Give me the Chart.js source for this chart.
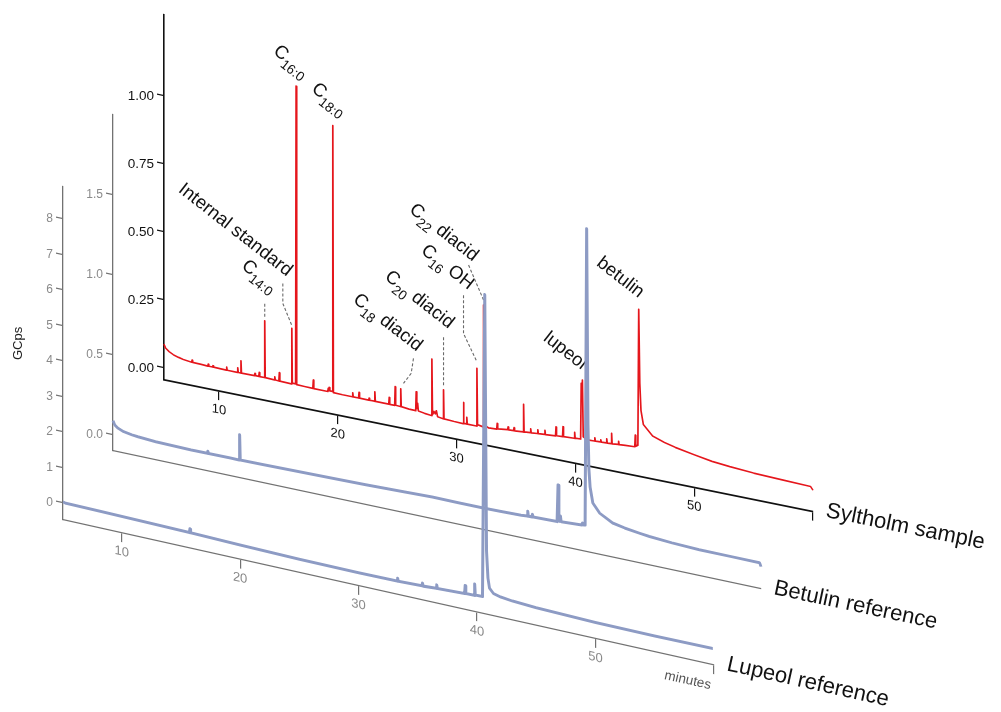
<!DOCTYPE html>
<html>
<head>
<meta charset="utf-8">
<title>GC traces</title>
<script src="https://cdn.jsdelivr.net/npm/chart.js@4.4.1/dist/chart.umd.min.js"></script>
<style>
  html, body { margin: 0; background: #fff; }
  #stack { position: relative; width: 1001px; height: 712px; overflow: hidden; }
  #stack canvas { position: absolute; left: 0; top: 0; }
</style>
</head>
<body>
<div id="stack">
  <canvas id="sylChart" width="1001" height="712"></canvas>
  <canvas id="betChart" width="1001" height="712"></canvas>
  <canvas id="lupChart" width="1001" height="712"></canvas>
</div>
<script>
// ============================================================
//  Stacked GC traces: Syltholm sample vs. betulin / lupeol refs
// ============================================================

// ===== DATA =====
const timeTicks = [10, 20, 30, 40, 50, 60];           // minutes
const panelNames = ['Syltholm sample', 'Betulin reference', 'Lupeol reference'];

// Syltholm sample trace [minutes, signal]
const sylTrace = [
  [5.37,0.088],[5.5,0.075],[5.8,0.064],[6.15,0.056],[6.6,0.05],[7.0,0.046],
  [7.7,0.042],[7.74,0.05],[7.78,0.042],[8.5,0.041],
  [9.06,0.04],[9.1,0.047],[9.14,0.04],[9.46,0.04],[9.5,0.045],[9.54,0.04],
  [10.61,0.039],[10.65,0.05],[10.69,0.039],[11.54,0.039],[11.58,0.056],[11.62,0.039],
  [11.81,0.039],[11.85,0.084],[11.89,0.039],[12.99,0.04],[13.03,0.048],[13.07,0.04],
  [13.35,0.04],[13.39,0.055],[13.43,0.04],[13.81,0.04],[13.85,0.249],[13.89,0.04],
  [14.66,0.039],[14.7,0.05],[14.74,0.039],[15.04,0.038],[15.08,0.069],[15.12,0.038],
  [16.09,0.037],[16.13,0.241],[16.17,0.04],[16.45,0.04],[16.49,1.135],[16.54,0.038],
  [17.2,0.037],[17.9,0.036],[17.94,0.067],[17.98,0.036],
  [19.16,0.036],[19.2,0.048],[19.24,0.04],[19.28,0.052],[19.33,0.04],
  [19.54,0.04],[19.58,1.017],[19.63,0.036],[20.4,0.035],
  [21.22,0.035],[21.26,0.05],[21.3,0.035],[21.75,0.035],[21.79,0.056],[21.83,0.035],
  [22.6,0.035],[22.64,0.042],[22.68,0.035],[23.08,0.035],[23.12,0.07],[23.16,0.035],
  [24.29,0.035],[24.33,0.06],[24.37,0.035],[24.79,0.035],[24.83,0.104],[24.87,0.036],
  [25.26,0.035],[25.3,0.1],[25.34,0.035],[26.0,0.032],
  [26.56,0.031],[26.6,0.101],[26.65,0.04],[26.72,0.06],[26.78,0.032],[27.3,0.028],
  [27.88,0.025],[27.92,0.233],[27.97,0.03],[28.1,0.042],[28.2,0.034],[28.3,0.046],[28.4,0.025],
  [28.86,0.022],[28.9,0.128],[28.94,0.022],[29.8,0.02],
  [30.54,0.019],[30.58,0.097],[30.62,0.02],[30.82,0.02],[30.86,0.045],[30.9,0.02],
  [31.67,0.02],[31.71,0.232],[31.76,0.026],[32.23,0.022],[32.27,0.47],[32.33,0.03],
  [32.7,0.022],[33.38,0.024],[33.42,0.045],[33.46,0.025],
  [34.3,0.03],[34.34,0.04],[34.38,0.03],[34.8,0.031],[34.84,0.042],[34.88,0.031],
  [35.6,0.033],[35.64,0.135],[35.68,0.034],[36.2,0.036],[36.24,0.05],[36.28,0.036],
  [36.8,0.038],[36.84,0.052],[36.88,0.038],[37.4,0.04],[37.44,0.055],[37.48,0.04],
  [38.0,0.042],[38.33,0.043],[38.37,0.076],[38.41,0.044],[38.92,0.045],[38.96,0.082],[39.0,0.046],
  [39.9,0.048],[39.94,0.07],[39.98,0.049],
  [40.44,0.05],[40.49,0.255],[40.54,0.19],[40.59,0.268],[40.66,0.06],[41.0,0.052],
  [41.6,0.053],[41.64,0.065],[41.68,0.053],[42.1,0.054],[42.14,0.062],[42.18,0.054],
  [42.6,0.055],[42.64,0.07],[42.68,0.055],[43.01,0.056],[43.05,0.094],[43.09,0.056],
  [43.6,0.058],[43.64,0.07],[43.68,0.058],[44.2,0.06],
  [45.0,0.062],[45.04,0.105],[45.08,0.065],
  [45.26,0.07],[45.33,0.57],[45.42,0.3],[45.52,0.2],[45.72,0.15],[46.5,0.115],[47.5,0.1],
  [48.4,0.09],[50,0.077],[51.5,0.066],[53,0.06],[55,0.054],[57.5,0.05],[59.8,0.047],[60,0.035]
];
const sylTicks = [0, 0.25, 0.5, 0.75, 1];

// Betulin reference trace
const betTrace = [
  [5.4,0.09],[5.55,0.065],[5.8,0.05],[6.3,0.035],[7.0,0.026],[7.5,0.022],[9,0.015],
  [12,0.01],[13.35,0.011],[13.4,0.025],[13.45,0.011],[15.3,0.012],
  [16.02,0.012],[16.07,0.17],[16.12,0.013],[18,0.015],[21,0.019],[24,0.022],[26.7,0.025],
  [30,0.032],[32.3,0.038],[34.5,0.037],[36.6,0.036],[38,0.038],[39.8,0.042],
  [40.3,0.045],[40.35,0.075],[40.4,0.045],[40.7,0.046],[40.75,0.062],[40.8,0.047],
  [42.82,0.05],[42.9,0.28],[42.97,0.08],[43.04,0.055],[43.1,0.09],[43.16,0.055],
  [44.9,0.062],[44.97,0.075],[45.05,0.064],[45.18,0.066],[45.31,1.92],[45.42,0.7],
  [45.5,0.42],[45.6,0.31],[45.83,0.214],[46.4,0.16],[47.5,0.115],[48.5,0.1],[49.8,0.087],
  [50.6,0.08],[52.5,0.07],[54.8,0.064],[57.5,0.063],[59.88,0.063],[60,0.04]
];
const betTicks = [0, 0.5, 1, 1.5];

// Lupeol reference trace
const lupTrace = [
  [5.05,0.03],[5.3,0.01],[8,0.0],[12,-0.02],[15.72,-0.04],[15.77,0.07],[15.82,-0.04],
  [20,-0.07],[25,-0.1],[30,-0.11],[33.25,-0.1],[33.3,-0.02],[33.35,-0.1],
  [35.35,-0.08],[35.4,0.0],[35.45,-0.08],[36.55,-0.06],[36.6,0.04],[36.65,-0.06],
  [38.95,-0.03],[39.0,0.2],[39.05,-0.02],[39.75,-0.02],[39.8,0.3],[39.85,0.0],
  [40.46,0.0],[40.65,8.52],[40.8,1.3],[40.92,0.55],[41.05,0.28],[41.4,0.15],[42,0.1],
  [43,0.06],[45,0.02],[50,-0.02],[55,-0.03],[59.9,-0.02]
];
const lupTicks = [0, 1, 2, 3, 4, 5, 6, 7, 8];

// Identified compounds in the sample: label pieces [text, isSubscript] and peak time
const peakLabels = [
  [['Internal standard', 0]],
  [['C', 0], ['14:0', 1]],
  [['C', 0], ['16:0', 1]],
  [['C', 0], ['18:0', 1]],
  [['C', 0], ['18', 1], [' diacid', 0]],
  [['C', 0], ['20', 1], [' diacid', 0]],
  [['C', 0], ['16', 1], [' OH', 0]],
  [['C', 0], ['22', 1], [' diacid', 0]],
  [['lupeol', 0]],
  [['betulin', 0]]
];
const peakTimes = [16.13, 13.85, 16.49, 19.58, 25.3, 28.9, 31.71, 32.27, 40.59, 45.33];

// ===== STYLE / LAYOUT =====
const FONT = "'Liberation Sans', Arial, Helvetica, sans-serif";
const RED = '#e5161c';
const BLUE = '#8d9bc4';
const GREY_AXIS = '#727272';
const GREY_TEXT = '#8a8a8a';
const LABEL_ANGLE = 38 * Math.PI / 180;

// text end + dashed leader, relative to the peak apex (px)
const LABEL_LAYOUT = [
  { text: [-5, -51.6], lead: [[-9, -45], [-9, -25], [0, -3]] },
  { text: [3.6, -24],  lead: [[0, -17], [0, -3]] },
  { text: [4, -4],     lead: [] },
  { text: [5.6, -5.7], lead: [] },
  { text: [16, -37],   lead: [[12.7, -30.5], [10.4, -15.5], [2.7, -5.5]] },
  { text: [5, -61],    lead: [[0, -52.6], [0, -3]] },
  { text: [-8.4, -78.3], lead: [[-13.4, -73.3], [-13.4, -35], [0, -6.6]] },
  { text: [-10.6, -43.3], lead: [[-15, -40], [0, -5]] },
  { text: [-1, -10],   lead: [] },
  { text: [0, -11],    lead: [] }
];

Chart.defaults.font.family = FONT;

// ===== HELPERS =====
function toScreen(chart, slope, t, v) {
  const x = chart.scales.x.getPixelForValue(t);
  const y = chart.scales.y.getPixelForValue(v) + slope * (x - chart.chartArea.left);
  return [x, y];
}

// shears axes + trace so the time axis runs down to the right;
// y tick labels sit on a z>0 layer and are drawn after the restore (upright)
function shearPlugin(slope, decorate) {
  return {
    id: 'shear',
    beforeDraw(chart) {
      const ctx = chart.ctx;
      ctx.save();
      ctx.transform(1, slope, 0, 1, 0, -slope * chart.chartArea.left);
    },
    afterDatasetsDraw(chart) {
      chart.ctx.restore();
    },
    afterDraw(chart) {
      if (decorate) decorate(chart, slope);
    }
  };
}

function drawLabel(ctx, parts, x, y, angle, size, subSize, drop) {
  ctx.save();
  ctx.translate(x, y);
  ctx.rotate(angle);
  ctx.textAlign = 'left';
  ctx.textBaseline = 'alphabetic';
  const fonts = parts.map(p => (p[1] ? subSize : size) + 'px ' + FONT);
  const widths = parts.map((p, i) => { ctx.font = fonts[i]; return ctx.measureText(p[0]).width; });
  let cx = -widths.reduce((a, b) => a + b, 0);
  const lift = parts[parts.length - 1][1] ? drop : 0;
  parts.forEach((p, i) => {
    ctx.font = fonts[i];
    ctx.fillText(p[0], cx, (p[1] ? drop : 0) - lift);
    cx += widths[i];
  });
  ctx.restore();
}

function drawPanelName(chart, slope, name) {
  const ctx = chart.ctx;
  const [ex, ey] = toScreen(chart, slope, chart.scales.x.max, chart.scales.y.min);
  ctx.save();
  ctx.translate(ex + 12, ey + 5);
  ctx.rotate(Math.atan(slope));
  ctx.font = '22px ' + FONT;
  ctx.fillStyle = '#111';
  ctx.textAlign = 'left';
  ctx.textBaseline = 'alphabetic';
  ctx.fillText(name, 0, 0);
  ctx.restore();
}

function decorateSyltholm(chart, slope) {
  const ctx = chart.ctx;
  ctx.save();
  ctx.fillStyle = '#111';
  peakLabels.forEach((parts, i) => {
    const apex = sylTrace.find(p => p[0] === peakTimes[i]);
    const [px, py] = toScreen(chart, slope, apex[0], apex[1]);
    const lay = LABEL_LAYOUT[i];
    if (lay.lead.length) {
      ctx.setLineDash([3, 2]);
      ctx.strokeStyle = '#6a6a6a';
      ctx.lineWidth = 1.1;
      ctx.beginPath();
      lay.lead.forEach(([dx, dy], k) => k ? ctx.lineTo(px + dx, py + dy) : ctx.moveTo(px + dx, py + dy));
      ctx.stroke();
      ctx.setLineDash([]);
    }
    drawLabel(ctx, parts, px + lay.text[0], py + lay.text[1], LABEL_ANGLE, 18.5, 13.5, 6);
  });
  ctx.restore();
  drawPanelName(chart, slope, panelNames[0]);
}

function decorateLupeol(chart, slope) {
  drawPanelName(chart, slope, panelNames[2]);
  const ctx = chart.ctx;
  const [ex, ey] = toScreen(chart, slope, chart.scales.x.max, chart.scales.y.min);
  ctx.save();
  ctx.translate(ex - 4, ey + 24);
  ctx.rotate(Math.atan(slope));
  ctx.font = '13.5px ' + FONT;
  ctx.fillStyle = '#555';
  ctx.textAlign = 'right';
  ctx.fillText('minutes', 0, 0);
  ctx.restore();

  // y axis unit, set left of the axis at the middle of its (sheared) span
  const y = chart.scales.y;
  const tx = y.left + 12;
  const ty = (y.top + y.bottom) / 2 + slope * (tx - chart.chartArea.left);
  ctx.save();
  ctx.translate(tx, ty);
  ctx.rotate(-Math.PI / 2);
  ctx.font = '13px ' + FONT;
  ctx.fillStyle = '#222';
  ctx.textAlign = 'center';
  ctx.textBaseline = 'middle';
  ctx.fillText('GCps', 0, 0);
  ctx.restore();
}

// ===== PANEL FACTORY =====
function makePanel(id, cfg) {
  return new Chart(document.getElementById(id), {
    type: 'scatter',
    data: {
      datasets: [{
        data: cfg.trace.map(p => ({ x: p[0], y: p[1] })),
        showLine: true,
        borderColor: cfg.color,
        borderWidth: cfg.lineWidth,
        borderJoinStyle: 'round',
        pointRadius: 0,
        tension: 0,
        clip: false
      }]
    },
    options: {
      responsive: false,
      animation: false,
      events: [],
      layout: { autoPadding: false, padding: cfg.padding },
      plugins: { legend: { display: false }, tooltip: { enabled: false } },
      scales: {
        x: {
          type: 'linear', min: cfg.xMin, max: 60,
          afterFit: s => { s.height = 40; },
          afterBuildTicks: s => { s.ticks = timeTicks.map(v => ({ value: v })); },
          border: { color: cfg.axisColor, width: cfg.axisWidth },
          grid: { display: cfg.xTicks, drawOnChartArea: false, color: cfg.axisColor, lineWidth: 1.2, tickLength: 9 },
          ticks: {
            display: cfg.xTicks, color: cfg.textColor, font: { size: 13 }, padding: 2,
            autoSkip: false, maxRotation: 0, callback: v => (v < 60 ? v : '')
          }
        },
        y: {
          min: cfg.yMin, max: cfg.yMax,
          afterFit: s => { s.width = cfg.yWidth; },
          afterBuildTicks: s => { s.ticks = cfg.yTicks.map(v => ({ value: v })); },
          border: { color: cfg.axisColor, width: cfg.axisWidth },
          grid: { drawOnChartArea: false, color: cfg.axisColor, lineWidth: 1.2, tickLength: 7 },
          ticks: {
            z: 1, color: cfg.textColor, font: { size: cfg.yFont }, padding: 3,
            callback: v => v.toFixed(cfg.decimals)
          }
        }
      }
    },
    plugins: [shearPlugin(cfg.slope, cfg.decorate)]
  });
}

// ===== BUILD (back to front) =====
makePanel('sylChart', {
  trace: sylTrace, color: RED, lineWidth: 1.7,
  xMin: 5.37, xTicks: true, yMin: -0.044, yMax: 1.298, yTicks: sylTicks, decimals: 2,
  yWidth: 60, yFont: 13.5, slope: 0.203,
  padding: { left: 104, top: 15, right: 188, bottom: 292 },
  axisColor: '#111', axisWidth: 1.6, textColor: '#111',
  decorate: decorateSyltholm
});

makePanel('betChart', {
  trace: betTrace, color: BLUE, lineWidth: 3,
  xMin: 5.4, xTicks: false, yMin: -0.1, yMax: 2.0, yTicks: betTicks, decimals: 1,
  yWidth: 60, yFont: 12, slope: 0.213,
  padding: { left: 53, top: 115, right: 240, bottom: 221 },
  axisColor: GREY_AXIS, axisWidth: 1.3, textColor: GREY_TEXT,
  decorate: (chart, slope) => drawPanelName(chart, slope, panelNames[1])
});

makePanel('lupChart', {
  trace: lupTrace, color: BLUE, lineWidth: 3,
  xMin: 5.05, xTicks: true, yMin: -0.48, yMax: 8.9, yTicks: lupTicks, decimals: 0,
  yWidth: 57, yFont: 12, slope: 0.223,
  padding: { left: 6, top: 187, right: 287, bottom: 152 },
  axisColor: GREY_AXIS, axisWidth: 1.3, textColor: GREY_TEXT,
  decorate: decorateLupeol
});
</script>
</body>
</html>
